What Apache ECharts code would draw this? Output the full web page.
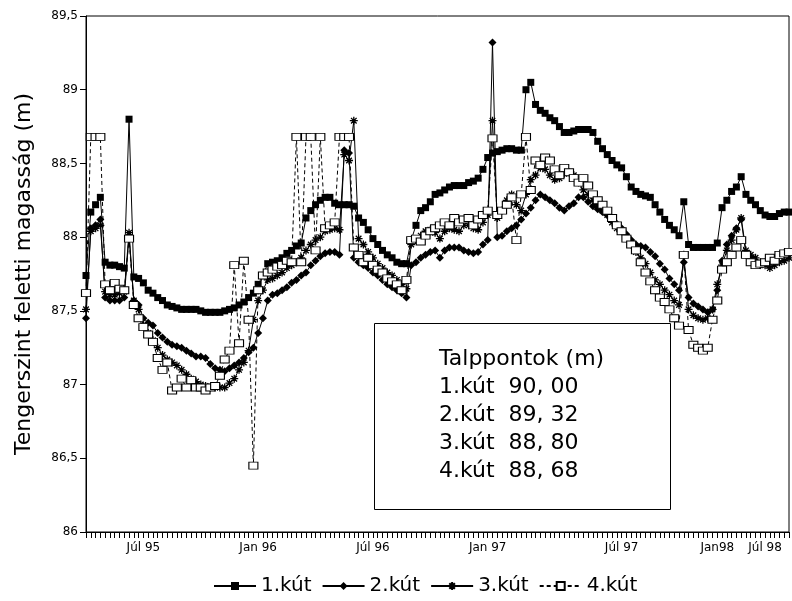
<!DOCTYPE html>
<html>
<head>
<meta charset="utf-8">
<script src="https://cdn.jsdelivr.net/npm/echarts@6/dist/echarts.min.js"></script>
<style>html,body{margin:0;padding:0;background:#fff}#c{width:792px;height:601px}</style>
</head>
<body>
<div id="c"></div>
<script>
// Measurement index (one tick per reading)
const categories = Array.from({length: 148}, (_, i) => 'M' + (i + 1));
// Tick labels at category positions
const tickLabels = {12: 'Júl 95', 36: 'Jan 96', 60: 'Júl 96', 84: 'Jan 97', 112: 'Júl 97', 132: 'Jan98', 142: 'Júl 98'};
const yTicks = [86, 86.5, 87, 87.5, 88, 88.5, 89, 89.5];

const kut1 = [87.74,88.17,88.22,88.27,87.83,87.81,87.81,87.80,87.79,88.80,
87.73,87.72,87.69,87.64,87.62,87.59,87.57,87.54,87.53,87.52,
87.51,87.51,87.51,87.51,87.50,87.49,87.49,87.49,87.49,87.50,
87.51,87.52,87.54,87.56,87.59,87.62,87.68,87.74,87.82,87.83,
87.84,87.86,87.89,87.91,87.94,87.96,88.13,88.18,88.22,88.25,
88.27,88.27,88.23,88.22,88.22,88.22,88.21,88.13,88.10,88.05,
87.99,87.95,87.91,87.88,87.86,87.83,87.82,87.82,87.98,88.08,
88.18,88.20,88.24,88.29,88.30,88.32,88.34,88.35,88.35,88.35,
88.37,88.38,88.40,88.46,88.54,88.57,88.58,88.59,88.60,88.60,
88.59,88.59,89.00,89.05,88.90,88.86,88.84,88.81,88.79,88.75,
88.71,88.71,88.72,88.73,88.73,88.73,88.71,88.65,88.60,88.56,
88.52,88.49,88.47,88.41,88.34,88.31,88.29,88.28,88.27,88.22,
88.17,88.12,88.08,88.05,88.01,88.24,87.95,87.93,87.93,87.93,
87.93,87.93,87.96,88.20,88.25,88.31,88.34,88.41,88.29,88.25,
88.22,88.18,88.15,88.14,88.14,88.16,88.17,88.17];

const kut2 = [87.45,88.06,88.08,88.12,87.59,87.57,87.57,87.57,87.59,88.01,
87.57,87.54,87.45,87.42,87.40,87.35,87.32,87.29,87.27,87.26,
87.25,87.23,87.21,87.19,87.19,87.18,87.14,87.11,87.10,87.09,
87.11,87.13,87.15,87.18,87.22,87.25,87.35,87.45,87.57,87.61,
87.62,87.64,87.66,87.69,87.71,87.74,87.76,87.81,87.84,87.87,
87.89,87.90,87.90,87.88,88.59,88.57,87.86,87.83,87.81,87.79,
87.76,87.74,87.71,87.68,87.66,87.64,87.62,87.59,87.81,87.83,
87.86,87.88,87.90,87.91,87.86,87.91,87.93,87.93,87.93,87.91,
87.90,87.89,87.90,87.95,87.98,89.32,88.00,88.01,88.04,88.06,
88.08,88.12,88.16,88.20,88.25,88.29,88.27,88.25,88.23,88.20,
88.18,88.21,88.23,88.27,88.27,88.24,88.21,88.19,88.17,88.15,
88.12,88.09,88.06,88.02,87.98,87.95,87.94,87.93,87.90,87.87,
87.82,87.78,87.72,87.68,87.64,87.83,87.59,87.55,87.53,87.51,
87.49,87.51,87.64,87.84,87.95,88.01,88.06,88.12,87.88,87.86,
87.83,87.81,87.83,87.83,87.86,87.88,87.89,87.90];

const kut3 = [87.51,88.04,88.06,88.08,87.63,87.61,87.61,87.62,87.63,88.03,
87.57,87.51,87.40,87.35,87.30,87.25,87.20,87.17,87.15,87.13,
87.10,87.07,87.04,87.02,87.00,86.99,86.98,86.98,86.98,86.98,
87.01,87.04,87.10,87.15,87.23,87.44,87.57,87.64,87.71,87.72,
87.74,87.76,87.79,87.81,87.83,87.86,87.91,87.95,87.98,88.00,
88.04,88.05,88.06,88.05,88.56,88.52,88.79,87.99,87.95,87.90,
87.86,87.82,87.79,87.76,87.74,87.71,87.68,87.65,87.95,87.98,
88.01,88.04,88.05,88.03,87.99,88.04,88.06,88.05,88.04,88.08,
88.08,88.06,88.05,88.10,88.15,88.79,88.13,88.18,88.25,88.29,
88.22,88.18,88.29,88.39,88.42,88.47,88.46,88.42,88.39,88.40,
88.43,88.44,88.42,88.37,88.32,88.29,88.25,88.22,88.18,88.15,
88.10,88.06,88.04,87.99,87.95,87.90,87.86,87.82,87.76,87.71,
87.68,87.64,87.61,87.57,87.54,87.88,87.51,87.47,87.45,87.44,
87.45,87.51,87.68,87.81,87.91,87.98,88.05,88.13,87.91,87.88,
87.86,87.83,87.81,87.79,87.81,87.83,87.84,87.86];

const kut4 = [87.62,88.68,88.68,88.68,87.68,87.64,87.69,87.65,87.64,87.99,
87.54,87.45,87.39,87.34,87.29,87.18,87.10,87.15,86.96,86.98,
87.04,86.98,87.03,86.98,86.98,86.96,86.98,86.99,87.06,87.17,
87.23,87.81,87.28,87.84,87.44,86.45,87.64,87.74,87.76,87.78,
87.80,87.81,87.84,87.83,88.68,87.83,88.68,88.68,87.91,88.68,
88.06,88.08,88.10,88.68,88.68,88.68,87.93,87.88,87.83,87.86,
87.81,87.78,87.76,87.72,87.70,87.68,87.64,87.71,87.98,87.99,
87.97,88.01,88.04,88.06,88.08,88.10,88.08,88.13,88.10,88.12,
88.13,88.08,88.12,88.15,88.18,88.67,88.15,88.18,88.22,88.27,
87.98,88.29,88.68,88.32,88.52,88.49,88.54,88.52,88.46,88.42,
88.47,88.44,88.40,88.37,88.40,88.35,88.29,88.25,88.22,88.18,
88.13,88.08,88.04,87.99,87.95,87.91,87.83,87.76,87.70,87.64,
87.59,87.56,87.51,87.45,87.40,87.88,87.37,87.27,87.25,87.23,
87.25,87.44,87.57,87.78,87.83,87.88,87.93,87.98,87.88,87.83,
87.81,87.82,87.83,87.86,87.84,87.88,87.89,87.90];

const seriesNames = ['1.kút', '2.kút', '3.kút', '4.kút'];
const boxLines = ['Talppontok (m)', '1.kút  90, 00', '2.kút  89, 32', '3.kút  88, 80', '4.kút  88, 68'];

const FONT = "'DejaVu Sans', sans-serif";
const asterisk = 'path://M5,0L5,10M0,5L10,5M1.5,1.5L8.5,8.5M8.5,1.5L1.5,8.5';

const chart = echarts.init(document.getElementById('c'), null, {renderer: 'canvas'});
const baseLine = {type: 'line', showAllSymbol: true, animation: false, lineStyle: {color: '#000', width: 1}};
chart.setOption({
  animation: false,
  backgroundColor: '#fff',
  grid: {left: 86, right: -8, top: 16, bottom: 69, show: true, borderColor: '#000', borderWidth: 1, backgroundColor: 'transparent'},
  xAxis: {
    type: 'category', data: categories, boundaryGap: false,
    axisLine: {lineStyle: {color: '#000', width: 1}},
    axisTick: {show: true, interval: 0, length: 6, lineStyle: {color: '#000'}},
    axisLabel: {interval: 0, margin: 10, color: '#000', fontFamily: FONT, fontSize: 12,
      formatter: (v, i) => tickLabels[i] || ''},
    splitLine: {show: false}
  },
  yAxis: {
    type: 'value', min: 86, max: 89.5, interval: 0.5,
    name: 'Tengerszint feletti magasság (m)', nameLocation: 'middle', nameGap: 51, nameRotate: 90,
    nameTextStyle: {fontFamily: FONT, fontSize: 22, color: '#000'},
    axisLine: {show: true, lineStyle: {color: '#000', width: 1}},
    axisTick: {show: true, length: 6, lineStyle: {color: '#000'}},
    axisLabel: {color: '#000', fontFamily: FONT, fontSize: 12, margin: 8,
      formatter: v => yTicks.indexOf(v) >= 0 ? String(v).replace('.', ',') : ''},
    splitLine: {show: false}
  },
  legend: {
    data: seriesNames, left: 208, top: 571, itemWidth: 42, itemHeight: 10, itemGap: 10,
    textStyle: {fontFamily: FONT, fontSize: 20, color: '#000'}
  },
  graphic: [
    {type: 'rect', left: 374, top: 323, shape: {width: 296, height: 186}, style: {fill: '#fff', stroke: '#000', lineWidth: 1}, z: 10},
    ...boxLines.map((t, k) => ({type: 'text', left: 439, top: 348 + k * 28, z: 11,
      style: {text: t, fill: '#000', font: "22px 'DejaVu Sans', sans-serif"}}))
  ],
  series: [
    Object.assign({}, baseLine, {name: seriesNames[0], data: kut1, symbol: 'rect', symbolSize: 7, itemStyle: {color: '#000'}}),
    Object.assign({}, baseLine, {name: seriesNames[1], data: kut2, symbol: 'diamond', symbolSize: 8, itemStyle: {color: '#000'}}),
    Object.assign({}, baseLine, {name: seriesNames[2], data: kut3, symbol: asterisk, symbolSize: 8, itemStyle: {color: '#000', borderColor: '#000', borderWidth: 1.3}}),
    Object.assign({}, baseLine, {name: seriesNames[3], data: kut4, symbol: 'rect', symbolSize: [9, 7],
      itemStyle: {color: '#fff', borderColor: '#000', borderWidth: 1},
      lineStyle: {color: '#000', width: 1, type: [4, 3]}})
  ]
});
</script>
</body>
</html>
